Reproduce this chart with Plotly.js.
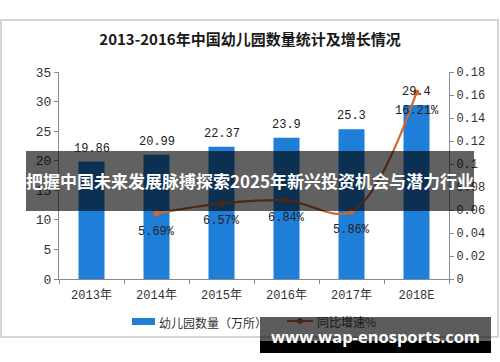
<!DOCTYPE html>
<html>
<head>
<meta charset="utf-8">
<script src="https://cdn.plot.ly/plotly-3.0.1.min.js"></script>
<style>html,body{margin:0;padding:0;background:#fff;}#chart{width:500px;height:362px;}</style>
</head>
<body>
<div id="chart"></div>
<script>
// ---- data ----
var categories = ['2013年', '2014年', '2015年', '2016年', '2017年', '2018E'];
var counts = [19.86, 20.99, 22.37, 23.9, 25.3, 29.4];
var countLabels = ['19.86', '20.99', '22.37', '23.9', '25.3', '29.4'];
var growth = [null, 0.0569, 0.0657, 0.0684, 0.0586, 0.1621];
var growthLabels = ['', '5.69%', '6.57%', '6.84%', '5.86%', '16.21%'];
var leftTicks = [0, 5, 10, 15, 20, 25, 30, 35];
var rightTickVals = [0, 0.02, 0.04, 0.06, 0.08, 0.1, 0.12, 0.14, 0.16, 0.18];
var rightTickText = ['0', '0.02', '0.04', '0.06', '0.08', '0.1', '0.12', '0.14', '0.16', '0.18'];
var titleText = '2013-2016年中国幼儿园数量统计及增长情况';
var legendBar = '幼儿园数量（万所）';
var legendLine = '同比增速%';
var bannerText = '把握中国未来发展脉搏探索2025年新兴投资机会与潜力行业';
var footerText = 'www.wap-enosports.com';

// ---- layout geometry (pixels) ----
var W = 500, H = 362;
var L = 59, R = 449, T = 72, B = 279;
function px(x) { return (x - L) / (R - L); }
function py(y) { return (B - y) / (B - T); }

var barColor = '#1f7ed8';
var lineColor = '#cf682a';
var monoFont = '"Liberation Mono", "Noto Sans CJK SC", monospace';
var tickColor = '#333';

var traces = [
  {
    type: 'bar', x: categories, y: counts, marker: {color: barColor},
    hoverinfo: 'none', showlegend: false
  },
  {
    type: 'scatter', mode: 'lines+markers', x: categories, y: growth, yaxis: 'y2',
    line: {color: lineColor, width: 2.2, shape: 'spline', smoothing: 1},
    marker: {color: lineColor, size: 6},
    connectgaps: false, hoverinfo: 'none', showlegend: false
  }
];

var annotations = [];
categories.forEach(function (c, i) {
  annotations.push({
    x: c, y: counts[i], xref: 'x', yref: 'y', text: countLabels[i],
    showarrow: false, yanchor: 'bottom', yshift: 4,
    font: {family: monoFont, size: 12, color: '#222'}
  });
  if (growth[i] !== null) {
    annotations.push({
      x: c, y: growth[i], xref: 'x', yref: 'y2', text: growthLabels[i],
      showarrow: false, yanchor: 'top', yshift: -9,
      font: {family: monoFont, size: 12, color: '#222'}
    });
  }
});
// legend texts
annotations.push({
  x: px(157), y: py(322), xref: 'paper', yref: 'paper', text: legendBar,
  showarrow: false, xanchor: 'left', yanchor: 'middle',
  font: {family: '"Noto Sans CJK SC", sans-serif', size: 12, color: '#333'}
});
annotations.push({
  x: px(315), y: py(321), xref: 'paper', yref: 'paper', text: legendLine,
  showarrow: false, xanchor: 'left', yanchor: 'middle',
  font: {family: '"Noto Sans CJK SC", sans-serif', size: 12, color: '#1a1a1a'}
});
// overlay banner texts
annotations.push({
  x: px(250), y: py(180), xref: 'paper', yref: 'paper', text: '<b>' + bannerText + '</b>',
  showarrow: false, xanchor: 'center', yanchor: 'middle',
  font: {family: '"Noto Sans CJK SC", sans-serif', size: 17, color: '#ffffff'}
});
annotations.push({
  x: px(375), y: py(336), xref: 'paper', yref: 'paper', text: '<b>' + footerText + '</b>',
  showarrow: false, xanchor: 'center', yanchor: 'middle',
  font: {family: '"Open Sans", "Noto Sans", sans-serif', size: 16.5, color: '#ffffff'}
});

var shapes = [
  // outer frame
  {type: 'rect', xref: 'paper', yref: 'paper', x0: px(1), x1: px(498), y0: py(337), y1: py(20),
   line: {color: '#c8c8c8', width: 1.5}, fillcolor: 'rgba(0,0,0,0)', layer: 'below'},
  // legend symbols
  {type: 'rect', xref: 'paper', yref: 'paper', x0: px(132), x1: px(155), y0: py(325), y1: py(318),
   line: {width: 0}, fillcolor: barColor},
  {type: 'line', xref: 'paper', yref: 'paper', x0: px(287), x1: px(313), y0: py(321), y1: py(321),
   line: {color: lineColor, width: 2.2}},
  {type: 'circle', xref: 'paper', yref: 'paper', x0: px(297), x1: px(303), y0: py(324), y1: py(318),
   line: {width: 0}, fillcolor: lineColor},
  // middle banner
  {type: 'rect', xref: 'paper', yref: 'paper', x0: px(26), x1: px(474), y0: py(211), y1: py(151),
   line: {width: 0}, fillcolor: 'rgba(0,0,0,0.62)', layer: 'above'},
  // footer banner
  {type: 'rect', xref: 'paper', yref: 'paper', x0: px(260), x1: px(491), y0: py(341), y1: py(317),
   line: {width: 0}, fillcolor: 'rgba(0,0,0,0.64)', layer: 'above'},
  {type: 'rect', xref: 'paper', yref: 'paper', x0: px(260), x1: px(491), y0: py(353), y1: py(341),
   line: {width: 0}, fillcolor: '#000000', layer: 'above'}
];

var layout = {
  width: W, height: H,
  margin: {l: L, r: W - R, t: T, b: H - B, pad: 0},
  paper_bgcolor: '#ffffff', plot_bgcolor: '#ffffff',
  showlegend: false,
  bargap: 0.6,
  title: {
    text: titleText, x: 0.5, xanchor: 'center', y: 1 - 40 / H, yanchor: 'middle',
    font: {family: '"Noto Sans CJK SC", sans-serif', size: 15, color: '#1a1a1a', weight: 'bold'}
  },
  xaxis: {
    type: 'category', range: [-0.5, 5.5], showline: true, linecolor: '#8a8a8a', linewidth: 1,
    ticks: 'outside', tickson: 'boundaries', ticklen: 4, tickcolor: '#8a8a8a',
    ticklabelstandoff: 5,
    showgrid: false, zeroline: false,
    tickfont: {family: monoFont, size: 12, color: tickColor}, fixedrange: true
  },
  yaxis: {
    range: [0, 35], tickvals: leftTicks, showline: true, linecolor: '#8a8a8a', linewidth: 1,
    ticks: 'outside', ticklen: 4, tickcolor: '#8a8a8a', showgrid: false, zeroline: false,
    tickfont: {family: monoFont, size: 13, color: tickColor}, fixedrange: true
  },
  yaxis2: {
    overlaying: 'y', side: 'right', range: [0, 0.18],
    tickvals: rightTickVals, ticktext: rightTickText,
    showline: true, linecolor: '#8a8a8a', linewidth: 1,
    ticks: 'outside', ticklen: 4, tickcolor: '#8a8a8a', showgrid: false, zeroline: false,
    tickfont: {family: monoFont, size: 12, color: tickColor}, fixedrange: true
  },
  annotations: annotations,
  shapes: shapes
};

Plotly.newPlot('chart', traces, layout, {displayModeBar: false, staticPlot: true});
</script>
</body>
</html>
